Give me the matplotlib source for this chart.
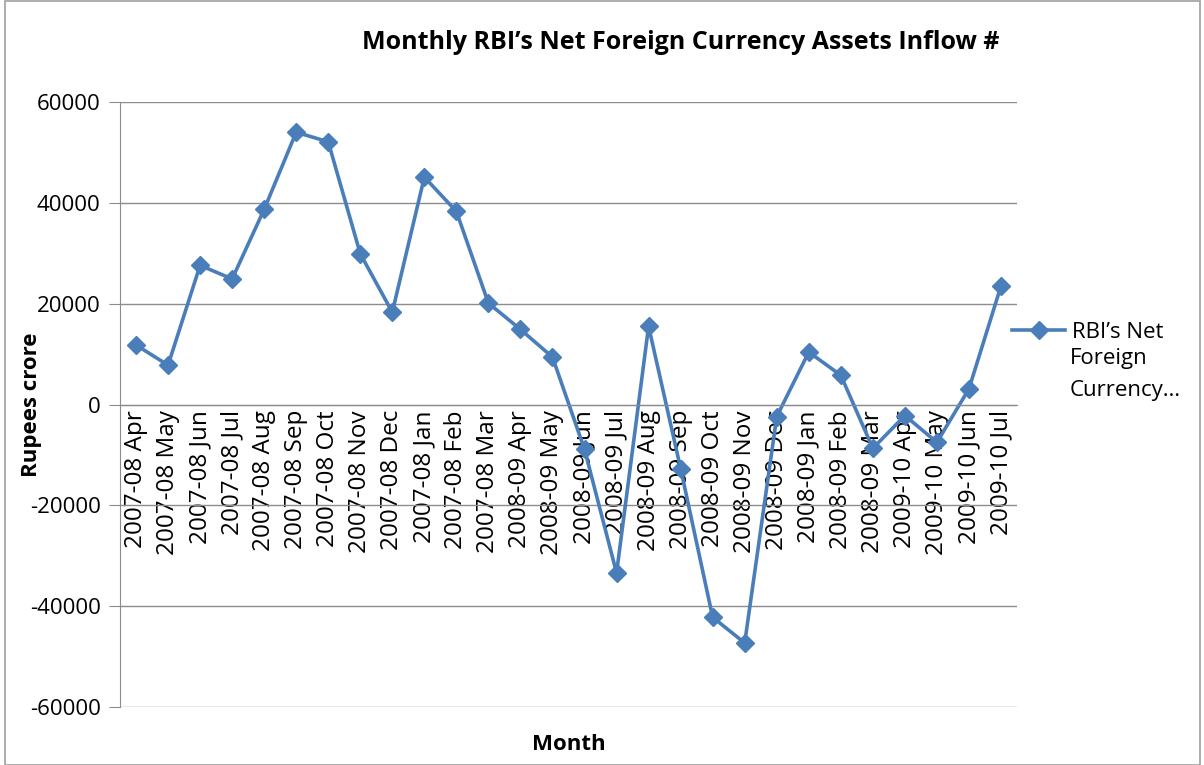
import matplotlib
matplotlib.use('Agg')
import numpy as np
import matplotlib.pyplot as plt
import matplotlib.patches as mpatches

plt.rcParams.update({
    'font.family': ['Open Sans', 'DejaVu Sans'],
    'font.size': 16,
})

months = ['2007-08 Apr', '2007-08 May', '2007-08 Jun', '2007-08 Jul', '2007-08 Aug',
          '2007-08 Sep', '2007-08 Oct', '2007-08 Nov', '2007-08 Dec', '2007-08 Jan',
          '2007-08 Feb', '2007-08 Mar', '2008-09 Apr', '2008-09 May', '2008-09 Jun',
          '2008-09 Jul', '2008-09 Aug', '2008-09 Sep', '2008-09 Oct', '2008-09 Nov',
          '2008-09 Dec', '2008-09 Jan', '2008-09 Feb', '2008-09 Mar', '2009-10 Apr',
          '2009-10 May', '2009-10 Jun', '2009-10 Jul']
inflow = [11800, 7800, 27600, 24900, 38700, 54000, 52100, 29900, 18300, 45100,
          38300, 20100, 14900, 9400, -8900, -33400, 15500, -12700, -42200, -47300,
          -2400, 10400, 5800, -8700, -2200, -7500, 3100, 23500]
yticks = [-60000, -40000, -20000, 0, 20000, 40000, 60000]

BLUE = '#4A7EBB'
GRID = '#8C8C8C'

fig = plt.figure(figsize=(12.04, 7.65), dpi=100)
ax = fig.add_axes([120 / 1204, 1 - 707 / 765, (1017 - 120) / 1204, (707 - 102) / 765])

# category axis sits on the zero line, like Excel does
ax.spines['top'].set_visible(False)
ax.spines['right'].set_visible(False)
ax.spines['left'].set_color(GRID)
ax.spines['bottom'].set_color(GRID)
ax.spines['bottom'].set_position(('data', 0))

x = np.arange(len(months))
ax.plot(x, inflow, color=BLUE, lw=2.6, marker='D', ms=9, label='RBI\u2019s Net')

ax.set_xlim(-0.5, len(months) - 0.5)
ax.set_ylim(-60000, 60000)
ax.set_yticks(yticks)
ax.set_yticklabels([str(v) for v in yticks])
ax.set_xticks(x)
ax.set_xticklabels(months, rotation=90, va='top', ha='center', fontsize=17.5)

ax.grid(axis='y', color=GRID, lw=1)
ax.set_axisbelow(True)
ax.tick_params(axis='x', length=0, pad=4)
ax.tick_params(axis='y', length=8, color=GRID, pad=6)

ax.set_title('Monthly RBI\u2019s Net Foreign Currency Assets Inflow #',
             fontsize=18, fontweight='bold', x=0.625, y=1.0, pad=38)
ax.set_ylabel('Rupees crore', fontsize=16, fontweight='bold')
ax.yaxis.set_label_coords(-0.087, 0.5)
ax.set_xlabel('Month', fontsize=16, fontweight='bold')
ax.xaxis.set_label_coords(0.50, -0.045)

# legend: marker sits on the first line, the label wraps below it
leg = ax.legend(loc='upper left', bbox_to_anchor=(0.972, 0.67), frameon=False,
                handlelength=2.4, handletextpad=0.3, fontsize=16)
fig.text(1070 / 1204, 1 - 348 / 765, 'Foreign\nCurrency\u2026', fontsize=16,
         va='top', ha='left', linespacing=1.7)

fig.patches.append(mpatches.Rectangle((0.004, 0.0), 0.993, 0.999, transform=fig.transFigure,
                                      fill=False, edgecolor='#A0A0A0', lw=1.2))

fig.savefig('out.png', dpi=100)
